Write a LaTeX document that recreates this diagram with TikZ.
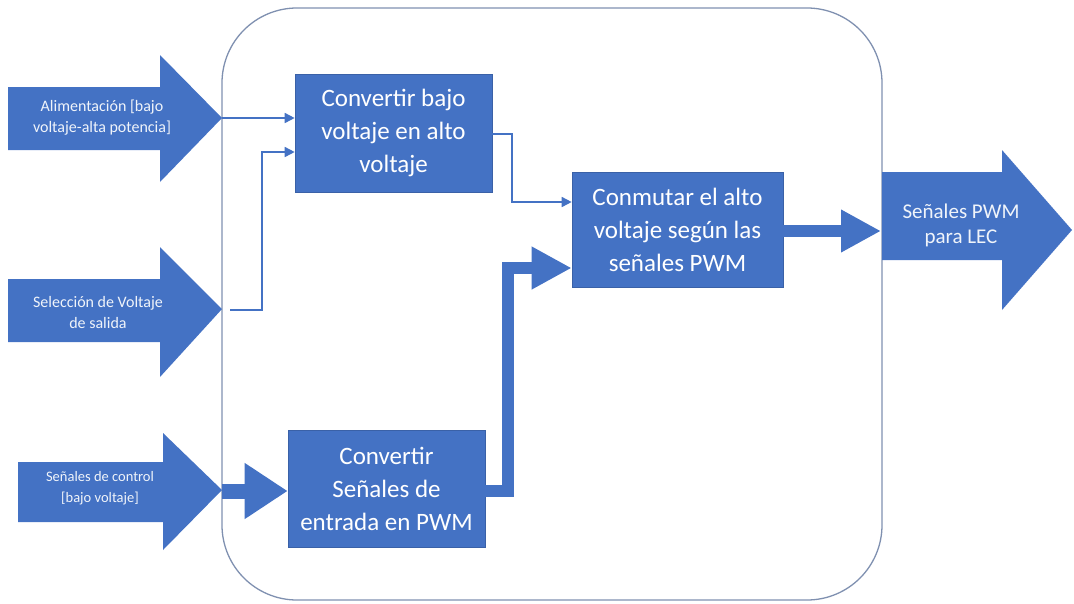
\documentclass[tikz,border=0pt]{standalone}
\usepackage{fontspec}
\setmainfont{Carlito}
\usetikzlibrary{arrows.meta}
\definecolor{ofblue}{HTML}{4472C4}
\definecolor{framec}{HTML}{7F90B0}
\begin{document}
\begin{tikzpicture}[x=1pt,y=-1pt,
  bigarrow/.style={fill=ofblue, draw=none},
  arrowtext/.style={text=white!92!ofblue, font=\fontsize{16}{21}\selectfont, align=center, inner sep=0pt},
  smalltext/.style={text=white!92!ofblue, font=\fontsize{14.5}{21}\selectfont, align=center, inner sep=0pt},
  outtext/.style={text=white!92!ofblue, font=\fontsize{21}{25}\selectfont, align=center, inner sep=0pt},
  blockbox/.style={fill=ofblue, draw=ofblue!85!black, line width=0.6pt, text=white, font=\fontsize{25}{33}\selectfont, align=center, inner sep=0pt},
  thinconn/.style={draw=ofblue, line width=1.6pt, -{Triangle[length=10pt,width=10pt]}},
  thickconn/.style={draw=ofblue, line width=12pt, line join=miter, -{Triangle[length=40pt,width=40pt]}},
  midconn/.style={draw=ofblue, line width=15pt, -{Triangle[length=43pt,width=53pt]}}]
\useasboundingbox (0,0) rectangle (1074,603);
% frame
\draw[framec, line width=1.3pt, rounded corners=75pt] (222,8) rectangle (882,600);
% input arrows
\fill[bigarrow] (8,87) -- (160,87) -- (160,55) -- (222,118) -- (160,182) -- (160,150) -- (8,150) -- cycle;
\fill[bigarrow] (8,279) -- (160,279) -- (160,247) -- (222,309) -- (160,377) -- (160,342) -- (8,342) -- cycle;
\fill[bigarrow] (18,462) -- (163,462) -- (163,433) -- (222,490) -- (163,550) -- (163,522) -- (18,522) -- cycle;
\fill[bigarrow] (882,172) -- (1002,172) -- (1002,150) -- (1072,230) -- (1002,310) -- (1002,260) -- (882,260) -- cycle;
\node[arrowtext] (in1) at (102,118) {Alimentación [bajo\\voltaje-alta potencia]};
\node[arrowtext] (in2) at (98,312) {Selección de Voltaje\\de salida};
\node[smalltext] (in3) at (100,488) {Señales de control\\{[bajo voltaje]}};
\node[outtext] (out) at (961,225) {Señales PWM\\para LEC};
\coordinate (t1) at (222,118);
\coordinate (t2) at (230,310);
\coordinate (t3) at (222,491);
\coordinate (o1) at (881,231);
% blocks
\node[blockbox, minimum width=197pt, minimum height=118pt] (b1) at (393.5,133) {Convertir bajo\\voltaje en alto\\voltaje};
\node[blockbox, minimum width=211pt, minimum height=115pt] (b2) at (677.5,229.5) {Conmutar el alto\\voltaje según las\\señales PWM};
\node[blockbox, minimum width=197pt, minimum height=117pt] (b3) at (386.5,488.5) {Convertir\\Señales de\\entrada en PWM};
% connectors
\draw[thinconn] (t1) -- (t1 -| b1.west);
\draw[thinconn] (t2) -- (262,310) -- (262,152) -- (b1.west |- 0,152);
\draw[thinconn] (b1.east |- 0,134) -- (512,134) -- (512,202) -- (b2.west |- 0,202);
\draw[midconn] (t3) -- (t3 -| b3.west);
\draw[thickconn] (b3.east |- 0,491) -- (508,491) -- (508,268) -- (b2.west |- 0,268);
\draw[thickconn] (b2.east |- 0,231) -- (o1);
\end{tikzpicture}
\end{document}
